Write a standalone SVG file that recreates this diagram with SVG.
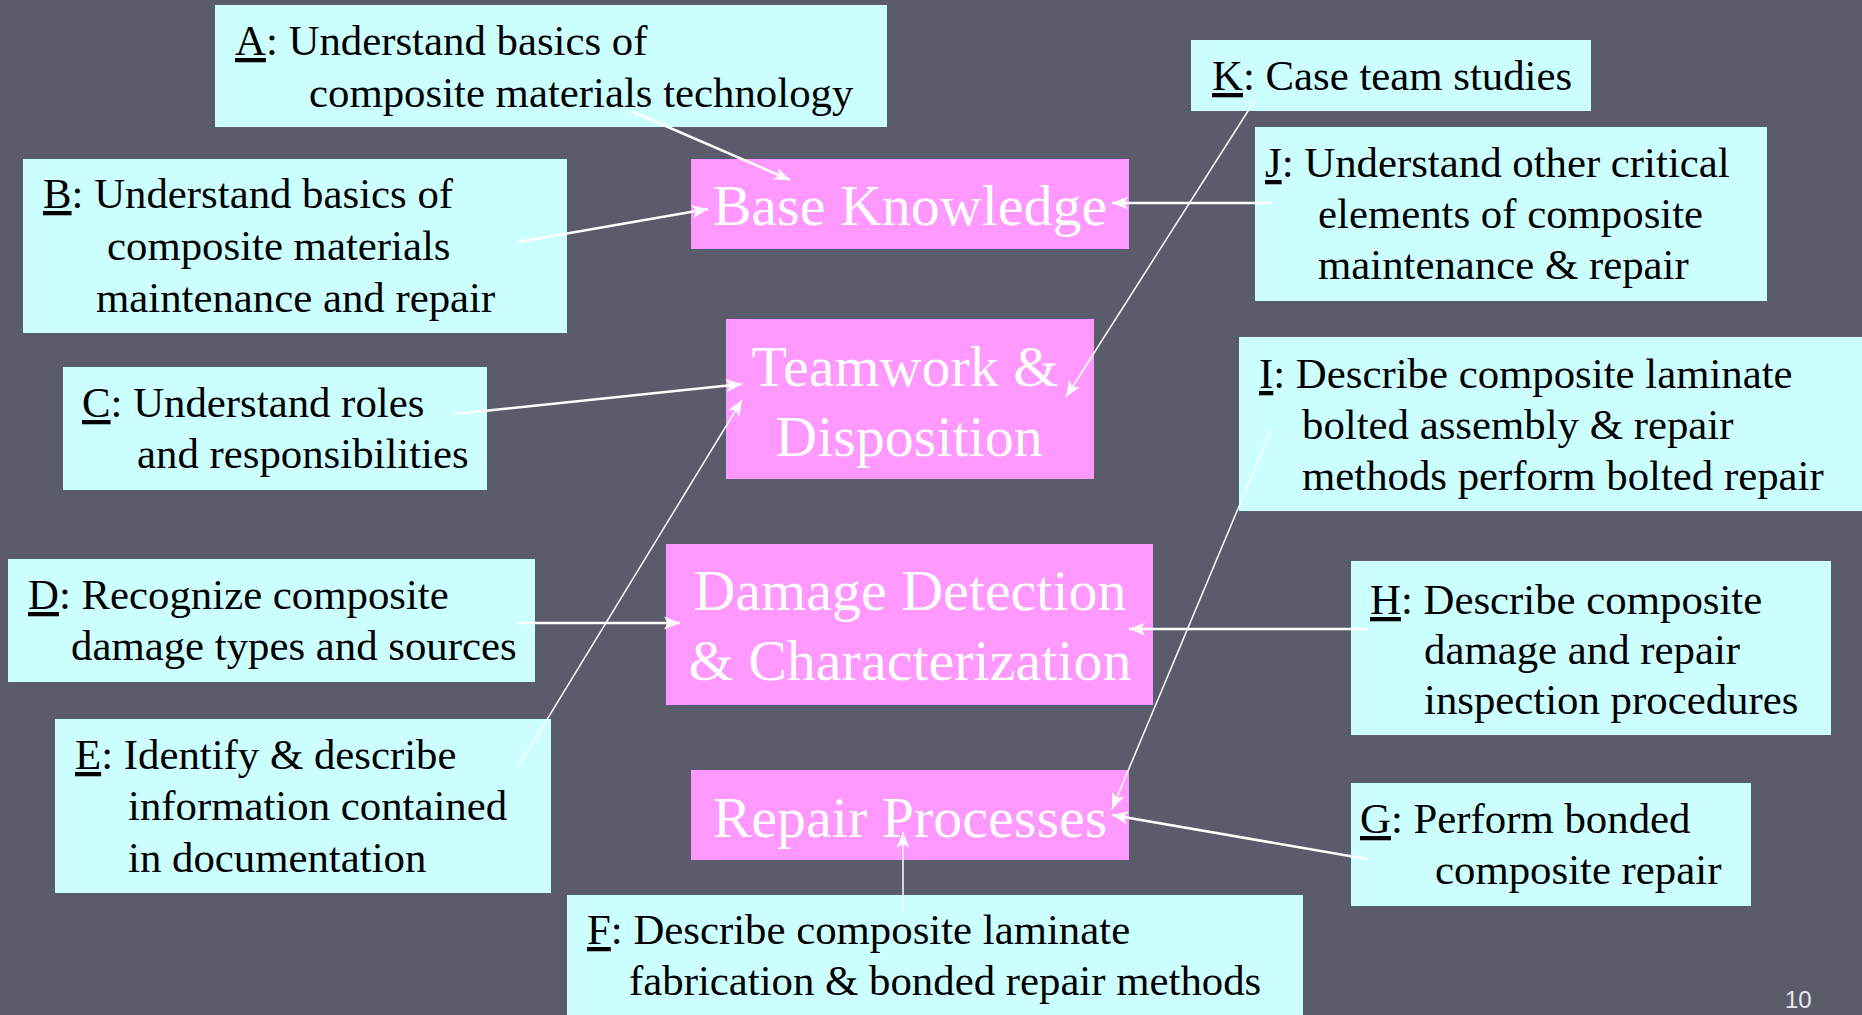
<svg xmlns="http://www.w3.org/2000/svg" width="1862" height="1015" viewBox="0 0 1862 1015">
<defs>
<marker id="ah" markerUnits="userSpaceOnUse" markerWidth="18" markerHeight="14" refX="16" refY="7" orient="auto">
<path d="M0,0.5 L16,7 L0,13.5 L4,7 z" fill="#ffffff"/>
</marker>
<style>
.bg{fill:#5a5b6b}
.lt{fill:#ccffff}
.pk{fill:#ff99ff}
.t{font-family:"Liberation Serif","Times New Roman",serif;font-size:42.8px;fill:#000000}
.p{font-family:"Liberation Serif","Times New Roman",serif;font-size:58px;fill:#ffffff;text-anchor:middle}
.u{text-decoration:underline}
.c{fill:none;stroke:#ffffff;stroke-width:2.5;marker-end:url(#ah)}
.cn{fill:none;stroke:#ffffff;stroke-width:1.5;marker-end:url(#ah)}
.pg{font-family:"Liberation Sans",Arial,sans-serif;font-size:24px;fill:#e8e8ee}
</style>
</defs>
<rect class="bg" x="0" y="0" width="1862" height="1015"/>

<g id="nodeA"><rect class="lt" x="215" y="5" width="672" height="122"/>
<text class="t" x="235" y="55"><tspan class="u">A</tspan>: Understand basics of</text>
<text class="t" x="309" y="107">composite materials technology</text></g>

<g id="nodeB"><rect class="lt" x="23" y="159" width="544" height="174"/>
<text class="t" x="43" y="208"><tspan class="u">B</tspan>: Understand basics of</text>
<text class="t" x="107" y="260">composite materials</text>
<text class="t" x="96" y="312">maintenance and repair</text></g>

<g id="nodeC"><rect class="lt" x="63" y="367" width="424" height="123"/>
<text class="t" x="82" y="417"><tspan class="u">C</tspan>: Understand roles</text>
<text class="t" x="137" y="468">and responsibilities</text></g>

<g id="nodeD"><rect class="lt" x="8" y="559" width="527" height="123"/>
<text class="t" x="28" y="609"><tspan class="u">D</tspan>: Recognize composite</text>
<text class="t" x="71" y="660">damage types and sources</text></g>

<g id="nodeE"><rect class="lt" x="55" y="719" width="496" height="174"/>
<text class="t" x="75" y="769"><tspan class="u">E</tspan>: Identify &amp; describe</text>
<text class="t" x="128" y="820">information contained</text>
<text class="t" x="128" y="872">in documentation</text></g>

<g id="nodeF"><rect class="lt" x="567" y="895" width="736" height="130"/>
<text class="t" x="587" y="944"><tspan class="u">F</tspan>: Describe composite laminate</text>
<text class="t" x="629" y="995">fabrication &amp; bonded repair methods</text></g>

<g id="nodeG"><rect class="lt" x="1351" y="783" width="400" height="123"/>
<text class="t" x="1360" y="833"><tspan class="u">G</tspan>: Perform bonded</text>
<text class="t" x="1435" y="884">composite repair</text></g>

<g id="nodeH"><rect class="lt" x="1351" y="561" width="480" height="174"/>
<text class="t" x="1370" y="614"><tspan class="u">H</tspan>: Describe composite</text>
<text class="t" x="1424" y="664">damage and repair</text>
<text class="t" x="1424" y="714">inspection procedures</text></g>

<g id="nodeI"><rect class="lt" x="1239" y="337" width="623" height="174"/>
<text class="t" x="1259" y="388"><tspan class="u">I</tspan>: Describe composite laminate</text>
<text class="t" x="1302" y="439">bolted assembly &amp; repair</text>
<text class="t" x="1302" y="490">methods perform bolted repair</text></g>

<g id="nodeJ"><rect class="lt" x="1255" y="127" width="512" height="174"/>
<text class="t" x="1265" y="177"><tspan class="u">J</tspan>: Understand other critical</text>
<text class="t" x="1318" y="228">elements of composite</text>
<text class="t" x="1318" y="279">maintenance &amp; repair</text></g>

<g id="nodeK"><rect class="lt" x="1191" y="40" width="400" height="71"/>
<text class="t" x="1212" y="90"><tspan class="u">K</tspan>: Case team studies</text></g>

<g id="nodeBK"><rect class="pk" x="691" y="159" width="438" height="90"/>
<text class="p" x="910" y="225">Base Knowledge</text></g>

<g id="nodeTD"><rect class="pk" x="726" y="319" width="368" height="160"/>
<text class="p" x="905" y="386">Teamwork &amp;</text>
<text class="p" x="909" y="456">Disposition</text></g>

<g id="nodeDDC"><rect class="pk" x="666" y="544" width="487" height="161"/>
<text class="p" x="910" y="610">Damage Detection</text>
<text class="p" x="910" y="680">&amp; Characterization</text></g>

<g id="nodeRP"><rect class="pk" x="691" y="770" width="438" height="90"/>
<text class="p" x="910" y="837">Repair Processes</text></g>

<g id="connectors">
<line class="c" x1="631" y1="111" x2="790" y2="180"/>
<line class="c" x1="518" y1="242" x2="708" y2="209"/>
<line class="c" x1="455" y1="414" x2="742" y2="384"/>
<line class="cn" x1="518" y1="767" x2="742" y2="400"/>
<line class="c" x1="518" y1="623" x2="680" y2="623"/>
<line class="c" x1="1271" y1="203" x2="1112" y2="203"/>
<line class="cn" x1="1255" y1="100" x2="1066" y2="397"/>
<line class="cn" x1="1271" y1="430" x2="1112" y2="809"/>
<line class="c" x1="1367" y1="629" x2="1129" y2="629"/>
<line class="c" x1="1367" y1="859" x2="1112" y2="815"/>
<line class="cn" x1="903" y1="911" x2="903" y2="832"/>
</g>

<text class="pg" x="1785" y="1008">10</text>
</svg>
